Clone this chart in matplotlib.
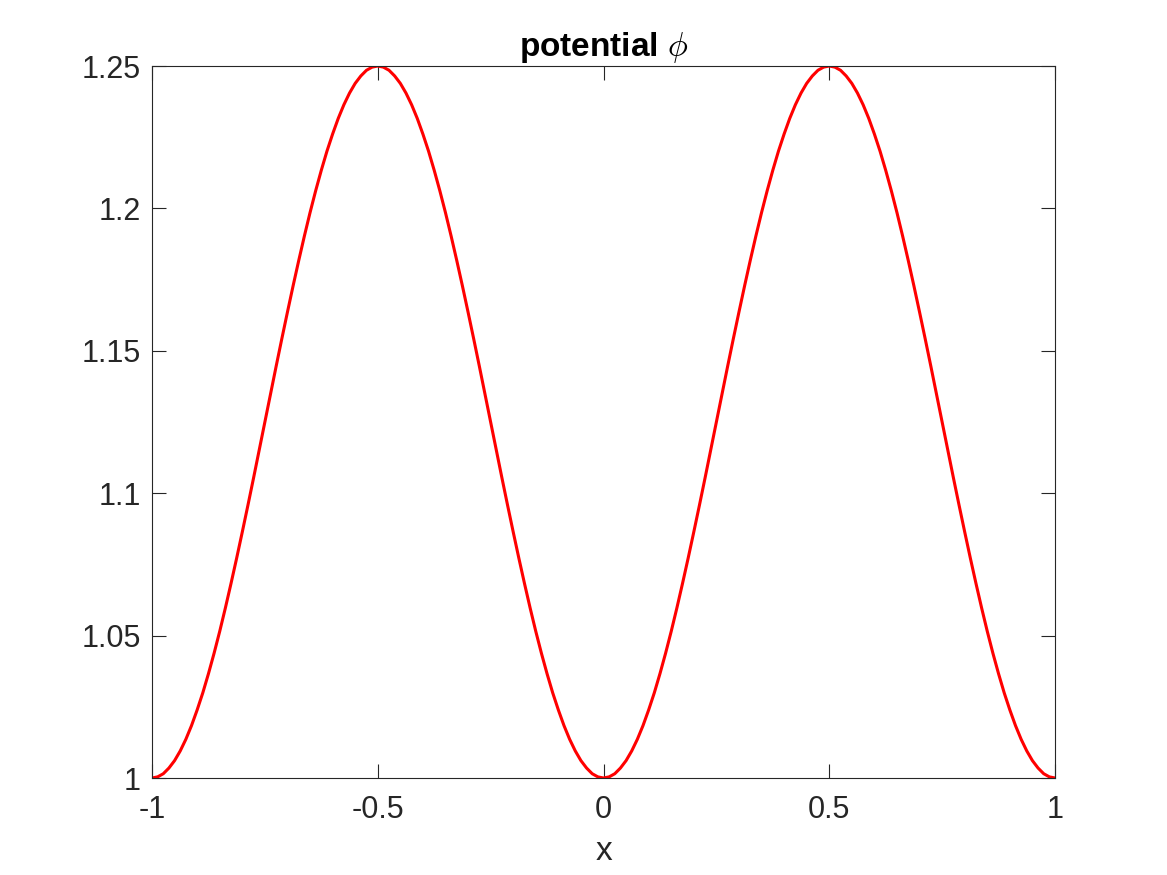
import numpy as np
import matplotlib
matplotlib.use("Agg")
import matplotlib.pyplot as plt

plt.rcParams['font.family'] = ['Liberation Sans', 'DejaVu Sans']
plt.rcParams['mathtext.fontset'] = 'cm'

# x grid from -1 to 1 step 0.0125
x = np.linspace(-1, 1, 161)
# values (0 .. 0.5 rising half-period)
rise = [1.0000, 1.0004, 1.0015, 1.0035, 1.0061, 1.0095, 1.0136, 1.0184, 1.0239,
        1.0299, 1.0366, 1.0438, 1.0515, 1.0597, 1.0683, 1.0772, 1.0864, 1.0958,
        1.1054, 1.1152, 1.1250, 1.1348, 1.1446, 1.1542, 1.1636, 1.1728, 1.1817,
        1.1903, 1.1985, 1.2062, 1.2134, 1.2201, 1.2261, 1.2316, 1.2364, 1.2405,
        1.2439, 1.2465, 1.2485, 1.2496, 1.2500]
period = rise + rise[-2::-1]
phi = period + period[1:]

xticks = [-1, -0.5, 0, 0.5, 1]
xticklabels = ['-1', '-0.5', '0', '0.5', '1']
yticks = [1, 1.05, 1.1, 1.15, 1.2, 1.25]
yticklabels = ['1', '1.05', '1.1', '1.15', '1.2', '1.25']

fig = plt.figure(figsize=(11.67, 8.75), dpi=100)
ax = fig.add_axes([152/1167, 1-778/875, (1055-152)/1167, (778-66)/875])
ax.plot(x, phi, color='#ff0000', linewidth=2.2, solid_joinstyle='round')

ax.set_xlim(-1, 1)
ax.set_ylim(1, 1.25)
ax.set_xticks(xticks)
ax.set_xticklabels(xticklabels)
ax.set_yticks(yticks)
ax.set_yticklabels(yticklabels)

gray = '#262626'
ax.tick_params(direction='in', length=10, width=0.8, colors=gray, labelsize=22,
               top=True, right=True, pad=12)
ax.tick_params(axis='y', pad=8)
for s in ax.spines.values():
    s.set_color(gray)
    s.set_linewidth(0.8)

ax.set_xlabel('x', fontsize=24, color=gray, labelpad=8)
ax.set_title('potential $\\phi$', fontsize=24, fontweight='bold', color='black', pad=7)

fig.savefig('out.png', dpi=100)
